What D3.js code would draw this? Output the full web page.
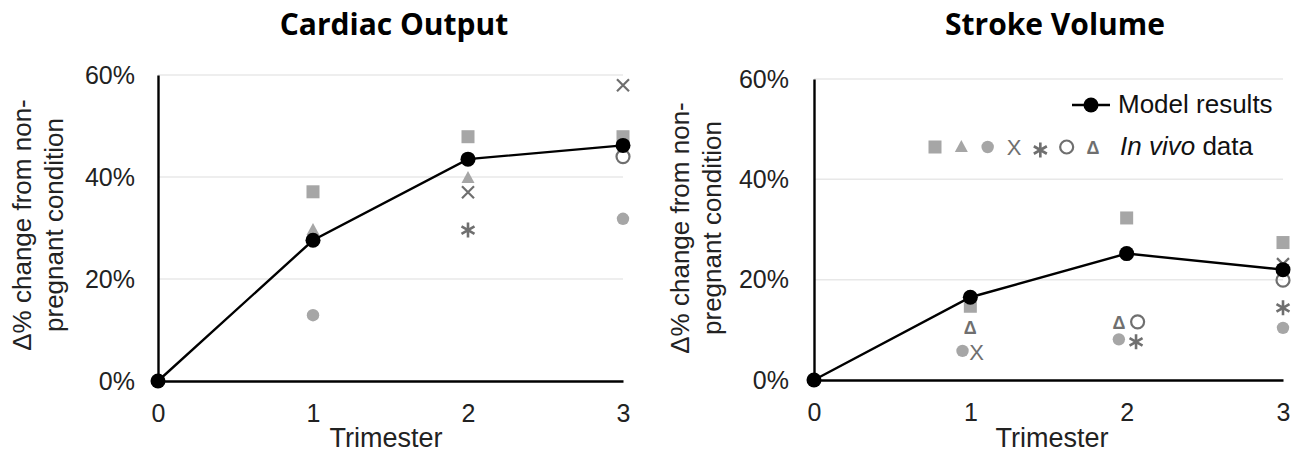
<!DOCTYPE html>
<html><head><meta charset="utf-8">
<script src="https://cdn.jsdelivr.net/npm/d3@7"></script>
<style>body{margin:0;background:#fff}svg{display:block}</style>
</head><body>
<svg id="c" width="1303" height="460"></svg>
<script>
const trimesters = [0, 1, 2, 3];
const yTicks = [0, 0.2, 0.4, 0.6];
const titles = ["Cardiac Output", "Stroke Volume"];
const coModel = [0, 0.276, 0.435, 0.462];
const svModel = [0, 0.165, 0.252, 0.220];
// in vivo data: [x, y, marker]
const coData = [
  [1, 0.371, "square"], [1, 0.296, "triangle"], [1, 0.129, "circle"],
  [2, 0.479, "square"], [2, 0.398, "triangle"], [2, 0.370, "x"], [2, 0.296, "asterisk"],
  [3, 0.580, "x"], [3, 0.479, "square"], [3, 0.440, "ocircle"], [3, 0.318, "circle"]
];
const svData = [
  [1, 0.147, "square"], [1, 0.106, "delta"], [0.95, 0.058, "circle"], [1.04, 0.056, "xtext"],
  [2, 0.323, "square"], [1.95, 0.116, "delta"], [2.07, 0.116, "ocircle"], [1.95, 0.081, "circle"], [2.06, 0.076, "asterisk"],
  [3, 0.274, "square"], [3, 0.231, "x"], [3, 0.199, "ocircle"], [3, 0.144, "asterisk"], [3, 0.104, "circle"]
];
const legendMarkers = ["square", "triangle", "circle", "xtext", "asterisk", "ocircle", "delta"];

const LIGHT = "#a6a6a6", DARK = "#6f6f6f";
const svg = d3.select("#c");
const font = "'Liberation Sans', Arial, sans-serif";

function drawMarker(g, type, x, y) {
  if (type === "square") g.append("rect").attr("x", x-6.5).attr("y", y-6.5).attr("width", 13).attr("height", 13).attr("fill", LIGHT);
  else if (type === "triangle") g.append("path").attr("d", `M${x},${y-7}L${x+6.5},${y+5}L${x-6.5},${y+5}Z`).attr("fill", LIGHT);
  else if (type === "circle") g.append("circle").attr("cx", x).attr("cy", y).attr("r", 6.2).attr("fill", LIGHT);
  else if (type === "ocircle") g.append("circle").attr("cx", x).attr("cy", y).attr("r", 6.5).attr("fill", "none").attr("stroke", DARK).attr("stroke-width", 2.2);
  else if (type === "x") g.append("path").attr("d", `M${x-6},${y-6}L${x+6},${y+6}M${x+6},${y-6}L${x-6},${y+6}`).attr("stroke", DARK).attr("stroke-width", 2.2);
  else if (type === "asterisk") {
    let d = `M${x},${y-7.5}L${x},${y+7.5}`;
    [30, 150].forEach(a => { const r = a*Math.PI/180; d += `M${x-7.5*Math.cos(r)},${y-7.5*Math.sin(r)}L${x+7.5*Math.cos(r)},${y+7.5*Math.sin(r)}`; });
    g.append("path").attr("d", d).attr("stroke", DARK).attr("stroke-width", 2.6);
  }
  else if (type === "xtext") g.append("text").attr("x", x).attr("y", y+8).attr("text-anchor", "middle").attr("font-family", font).attr("font-size", 22).attr("fill", DARK).text("X");
  else if (type === "delta") g.append("text").attr("x", x).attr("y", y+7).attr("text-anchor", "middle").attr("font-family", font).attr("font-weight", "bold").attr("font-size", 18).attr("fill", DARK).text("Δ");
}

function panel(cfg) {
  const g = svg.append("g");
  const x = d3.scaleLinear().domain([0, 3]).range([cfg.x0, cfg.x1]);
  const y = d3.scaleLinear().domain([0, 0.6]).range([cfg.y0, cfg.y1]);
  // gridlines
  g.selectAll(".grid").data(yTicks.filter(t => t > 0)).join("line")
    .attr("x1", cfg.x0).attr("x2", cfg.x1).attr("y1", d => y(d)).attr("y2", d => y(d))
    .attr("stroke", "#e8e8e8").attr("stroke-width", 1.5);
  // axes
  const ya = g.append("g").attr("transform", `translate(${cfg.x0},0)`)
    .call(d3.axisLeft(y).tickValues(yTicks).tickFormat(d3.format(".0%")).tickSize(0).tickPadding(cfg.ypad));
  ya.select(".domain").attr("stroke", "#000").attr("stroke-width", 2.4);
  ya.selectAll("text").attr("font-family", font).attr("font-size", 25).attr("fill", "#222");
  const xa = g.append("g").attr("transform", `translate(0,${cfg.y0})`)
    .call(d3.axisBottom(x).tickValues(trimesters).tickFormat(d3.format("d")).tickSize(0).tickPadding(23));
  xa.select(".domain").attr("stroke", "#000").attr("stroke-width", 2.4);
  xa.selectAll("text").attr("font-family", font).attr("font-size", 25).attr("fill", "#222");
  // titles
  g.append("text").attr("x", cfg.tx).attr("y", 35).attr("text-anchor", "middle")
    .attr("font-family", "'Open Sans', Lato, sans-serif").attr("font-weight", "bold").attr("font-size", 30).attr("fill", "#000").text(cfg.title);
  g.append("text").attr("x", cfg.trx).attr("y", 447).attr("text-anchor", "middle")
    .attr("font-family", font).attr("font-size", 27).attr("fill", "#222").text("Trimester");
  const yt = g.append("text").attr("transform", `translate(${cfg.ylx},${cfg.yly}) rotate(-90)`)
    .attr("text-anchor", "middle").attr("font-family", font).attr("font-size", 26).attr("fill", "#222");
  yt.append("tspan").attr("x", 0).attr("dy", 0).text("Δ% change from non-");
  yt.append("tspan").attr("x", 0).attr("dy", 32).text("pregnant condition");
  // data
  cfg.data.forEach(d => drawMarker(g, d[2], x(d[0]), y(d[1])));
  // model line
  const line = d3.line().x((d, i) => x(trimesters[i])).y(d => y(d));
  g.append("path").attr("d", line(cfg.model)).attr("fill", "none").attr("stroke", "#000").attr("stroke-width", 2.4);
  g.selectAll(".pt").data(cfg.model).join("circle").attr("cx", (d, i) => x(trimesters[i])).attr("cy", d => y(d)).attr("r", 7.5).attr("fill", "#000");
  return g;
}

panel({x0: 158, x1: 623, y0: 381, y1: 75, tx: 394, trx: 386, title: titles[0], data: coData, model: coModel, ylx: 31, yly: 225, ypad: 23});
const g2 = panel({x0: 814, x1: 1283, y0: 380, y1: 79, tx: 1055, trx: 1052, title: titles[1], data: svData, model: svModel, ylx: 689, yly: 228, ypad: 25});

// legend
g2.append("line").attr("x1", 1072).attr("x2", 1110).attr("y1", 105).attr("y2", 105).attr("stroke", "#000").attr("stroke-width", 2.4);
g2.append("circle").attr("cx", 1091).attr("cy", 105).attr("r", 7.5).attr("fill", "#000");
g2.append("text").attr("x", 1118).attr("y", 113).attr("font-family", font).attr("font-size", 26).attr("fill", "#111").text("Model results");
const lx = d3.scalePoint().domain(legendMarkers).range([935, 1093]);
legendMarkers.forEach(m => drawMarker(g2, m, lx(m), m === "asterisk" ? 150 : 147));
const lt = g2.append("text").attr("x", 1120).attr("y", 155).attr("font-family", font).attr("font-size", 26).attr("fill", "#111");
lt.append("tspan").attr("font-style", "italic").text("In vivo");
lt.append("tspan").text(" data");
</script>
</body></html>
